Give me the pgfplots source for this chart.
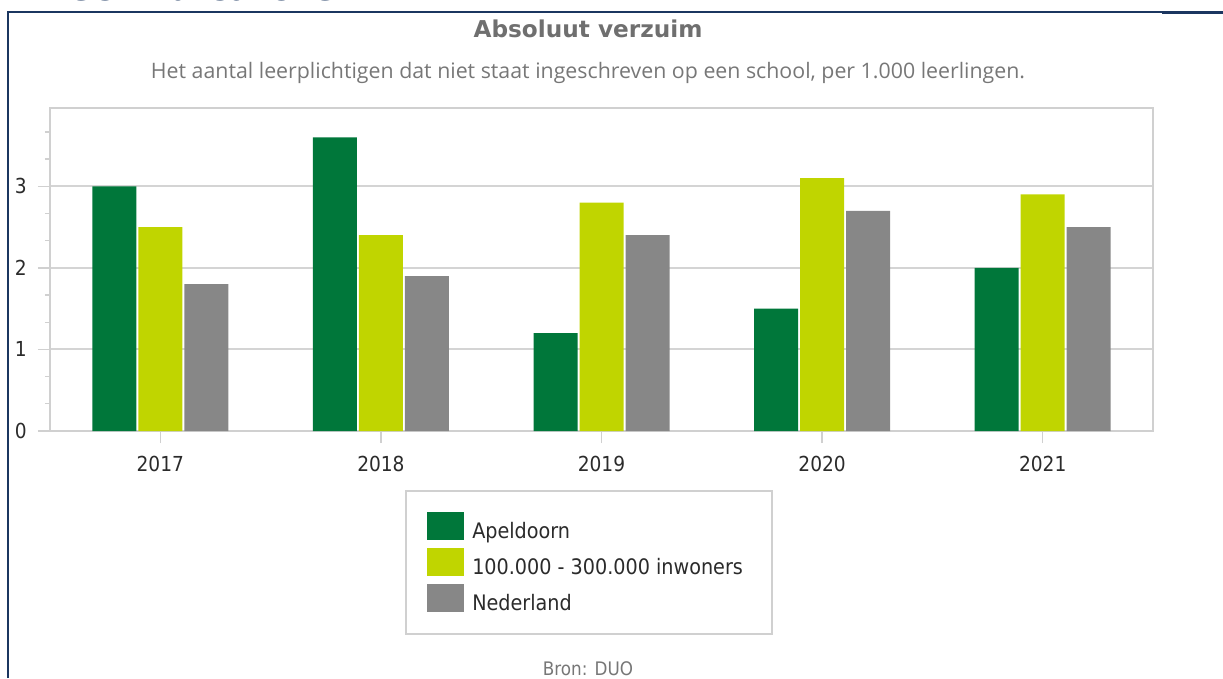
\documentclass[border=0pt]{standalone}
\usepackage{pgfplots}
\pgfplotsset{compat=1.18}
\usepackage{fontspec}
\setmainfont{DejaVu Sans}
\newfontfamily\tfont{DejaVu Sans Condensed}
\newfontfamily\titlefont{DejaVu Sans}
\newfontfamily\subfont{Open Sans}
\definecolor{cgreen}{HTML}{00773A}
\definecolor{clime}{HTML}{C0D500}
\definecolor{cgray}{HTML}{878787}
\definecolor{navy}{HTML}{1B3660}
\definecolor{titlegray}{HTML}{6F6F6F}
\definecolor{subgray}{HTML}{777777}
\definecolor{ticktext}{HTML}{2B2B2B}
\definecolor{framegray}{HTML}{D0D0D0}
\definecolor{gridgray}{HTML}{D4D4D4}
\begin{document}
\begin{tikzpicture}[x=0.75pt,y=0.75pt]
\useasboundingbox (0,0) rectangle (1223,678);
\begin{scope}
\clip (0,0) rectangle (1223,678);
\node[anchor=base west, inner sep=0pt, text=navy, font=\titlefont\bfseries\fontsize{27}{27}\selectfont] at (14,677) {Effectindicatoren};
\end{scope}
\draw[navy, line width=1.5pt] (8,0) -- (8,666) -- (1162,666);
\draw[navy, line width=2.2pt] (1162,665.5) -- (1223,665.5);
\node[text=titlegray, font=\titlefont\bfseries\fontsize{17.4}{17.4}\selectfont, inner sep=0pt] at (588,649) {Absoluut verzuim};
\node[text=subgray, font=\subfont\fontsize{16}{16}\selectfont, inner sep=0pt] at (588,605) {Het aantal leerplichtigen dat niet staat ingeschreven op een school, per 1.000 leerlingen.};
\node[text=subgray, font=\tfont\fontsize{14}{14}\selectfont, inner sep=0pt, anchor=base] at (588,3) {Bron: DUO};
\begin{axis}[
  at={(37.5pt,185.25pt)}, anchor=south west,
  width=827.25pt, height=242.25pt, scale only axis,
  ybar=1.5pt, bar width=33pt,
  xmin=-0.5, xmax=4.5,
  xtick={0,1,2,3,4},
  xticklabels={2017,2018,2019,2020,2021},
  ymin=0, ymax=3.96,
  ytick={0,1,2,3},
  minor ytick={0.3333,0.6667,1.3333,1.6667,2.3333,2.6667,3.3333,3.6667},
  /pgf/number format/assume math mode=true,
  ymajorgrids,
  major grid style={draw=gridgray, line width=1.5pt},
  axis line style={draw=framegray, line width=2.2pt},
  tick pos=left,
  tick align=outside,
  major tick length=9pt,
  minor tick length=3.75pt,
  every tick/.style={draw=framegray, line width=1pt},
  ticklabel style={font=\tfont\fontsize{15.5}{15.5}\selectfont, text=ticktext},
  yticklabel style={xshift=-5pt},
  xticklabel style={yshift=-6pt},
  legend style={
    at={(0.3218,-0.1827)}, anchor=north west,
    draw=framegray, line width=1.5pt,
    inner xsep=16pt, inner ysep=16pt,
    row sep=5.6pt, column sep=0pt,
    font=\tfont\fontsize{16}{16}\selectfont,
    text=ticktext,
    nodes={inner sep=0pt, inner xsep=6pt},
  },
  legend cell align=left,
  legend image code/.code={\path[#1] (0pt,-6.5pt) rectangle (27.75pt,14.5pt);},
]
\addplot[fill=cgreen, draw=none] coordinates {(0,3.0) (1,3.6) (2,1.2) (3,1.5) (4,2.0)};
\addplot[fill=clime, draw=none] coordinates {(0,2.5) (1,2.4) (2,2.8) (3,3.1) (4,2.9)};
\addplot[fill=cgray, draw=none] coordinates {(0,1.8) (1,1.9) (2,2.4) (3,2.7) (4,2.5)};
\legend{Apeldoorn,{100.000 - 300.000 inwoners},Nederland}
\end{axis}
\end{tikzpicture}
\end{document}
